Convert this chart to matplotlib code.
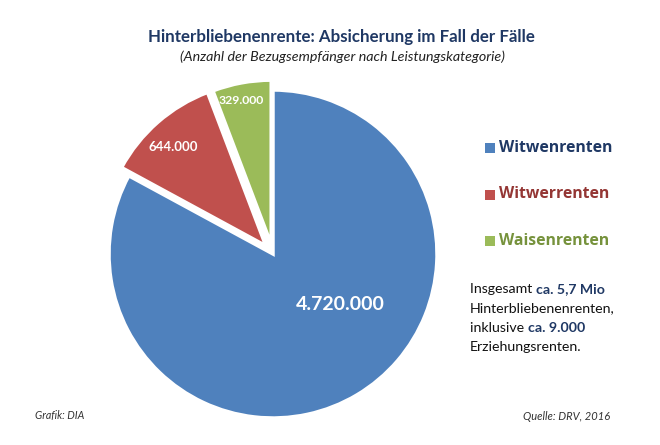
import matplotlib
matplotlib.use("Agg")
import matplotlib.pyplot as plt

categories = ["Witwenrenten", "Witwerrenten", "Waisenrenten"]
values = [4720000, 644000, 329000]
value_labels = ["4.720.000", "644.000", "329.000"]
colors = ["#4F81BD", "#C0504D", "#9BBB59"]
text_colors = ["#1F3864", "#943634", "#76923C"]

W, H = 660, 445
fig = plt.figure(figsize=(6.6, 4.45), dpi=100)
ax = fig.add_axes([0, 0, 1, 1])
ax.set_xlim(0, W)
ax.set_ylim(0, H)
ax.set_aspect("equal")
ax.axis("off")

def Y(y):
    return H - y

FONT = "Lato"

wedges, _ = ax.pie(values, radius=164, center=(273, Y(254)), startangle=90,
                   counterclock=False, colors=colors, explode=[0, 11, 10],
                   wedgeprops=dict(edgecolor="white", linewidth=2.5))
ax.set_xlim(0, W)
ax.set_ylim(0, H)

# value labels
ax.text(340, Y(305), value_labels[0], color="white", fontsize=14, fontweight="bold",
        ha="center", va="center", family=FONT, zorder=5)
ax.text(173, Y(147), value_labels[1], color="white", fontsize=9.5, fontweight="bold",
        ha="center", va="center", family=FONT, zorder=5)
ax.text(241, Y(100), value_labels[2], color="white", fontsize=8.8, fontweight="bold",
        ha="center", va="center", family=FONT, zorder=5)

# title
ax.text(341, Y(37), "Hinterbliebenenrente: Absicherung im Fall der Fälle", color="#1F3864",
        fontsize=12.2, fontweight="bold", ha="center", va="center", family=FONT)
ax.text(342, Y(57), "(Anzahl der Bezugsempfänger nach Leistungskategorie)", color="#222222",
        fontsize=10.3, style="italic", ha="center", va="center", family=FONT)

# legend
for i, (cat, c, tc) in enumerate(zip(categories, colors, text_colors)):
    y = 148 + i * 46.5
    ax.scatter([489.5], [Y(y)], marker="s", s=52, color=c, linewidths=0)
    ax.text(499, Y(y), cat, color=tc, fontsize=11.3, fontweight="bold",
            ha="left", va="center", family="Open Sans")

# annotation text
lines = [("Insgesamt ", "ca. 5,7 Mio"), ("Hinterbliebenenrenten,", ""),
         ("inklusive ", "ca. 9.000"), ("Erziehungsrenten.", "")]
for i, (normal, bold) in enumerate(lines):
    y = 293 + i * 19.3
    t = ax.text(470, Y(y), normal, color="#111111", fontsize=10.2, ha="left",
                va="baseline", family=FONT)
    if bold:
        ax.annotate(bold, xy=(1, 0), xycoords=t, xytext=(0, 0), textcoords="offset points",
                    color="#1F3864", fontsize=10.2, fontweight="bold", ha="left",
                    va="bottom", family=FONT)

# footer
ax.text(35, Y(416), "Grafik: DIA", color="#333333", fontsize=7.7, style="italic",
        ha="left", va="center", family=FONT)
ax.text(610, Y(416), "Quelle: DRV, 2016", color="#333333", fontsize=8, style="italic",
        ha="right", va="center", family=FONT)

fig.savefig("out.png", dpi=100, facecolor="white")
